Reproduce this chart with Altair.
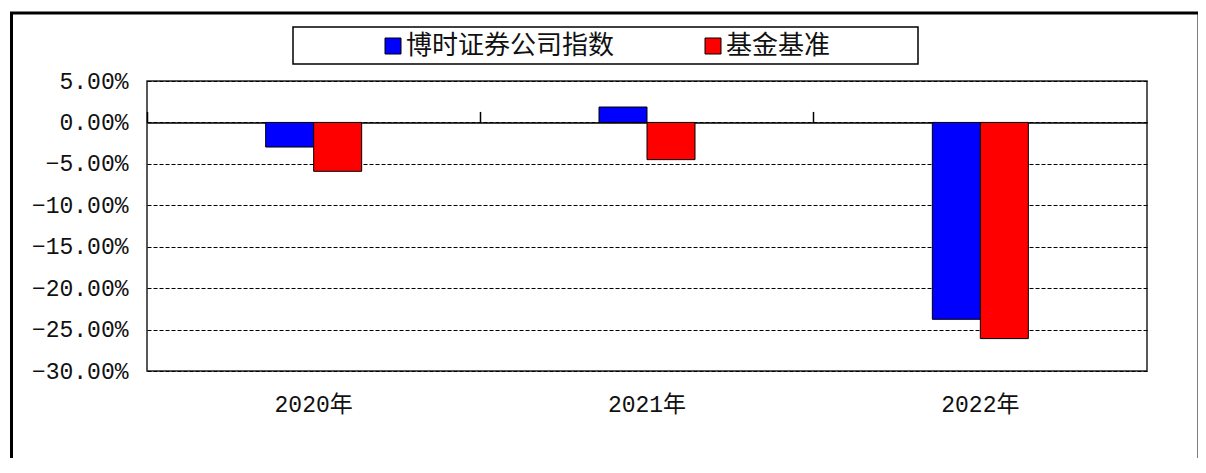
import altair as alt
import pandas as pd

years = ["2020年", "2021年", "2022年"]
series = ["博时证券公司指数", "基金基准"]
index_values = [-2.97, 1.86, -23.76]
benchmark_values = [-5.90, -4.49, -26.09]
colors = ["#0000FF", "#FF0000"]
y_ticks = [5, 0, -5, -10, -15, -20, -25, -30]

rows = []
for i, yr in enumerate(years):
    rows.append({"year": yr, "series": series[0], "value": index_values[i]})
    rows.append({"year": yr, "series": series[1], "value": benchmark_values[i]})
df = pd.DataFrame(rows)

W, H = 1000, 290
NUM_FONT = "Liberation Mono, Noto Sans CJK SC"
CJK_FONT = "Noto Sans CJK SC"

x_scale = alt.Scale(type="band", domain=years, paddingInner=0.712, paddingOuter=0.356)
x_scale_full = alt.Scale(type="band", domain=years, paddingInner=0, paddingOuter=0)
y_scale = alt.Scale(domain=[-30, 5], nice=False)

bars = alt.Chart(df).mark_bar(stroke="black", strokeWidth=1).encode(
    x=alt.X("year:N", scale=x_scale, title=None,
            axis=alt.Axis(orient="bottom", domain=False, ticks=False, labelAngle=0,
                          labelFont=NUM_FONT, labelFontSize=23, labelPadding=22,
                          labelColor="#111")),
    xOffset=alt.XOffset("series:N", scale=alt.Scale(domain=series, paddingInner=0, paddingOuter=0)),
    y=alt.Y("value:Q", scale=y_scale, stack=None, title=None,
            axis=alt.Axis(values=y_ticks, labelExpr="format(datum.value, '.2f') + '%'",
                          domain=False, ticks=False, grid=True, gridDash=[4, 2],
                          gridColor="black", gridWidth=1, labelFont=NUM_FONT,
                          labelFontSize=23, labelPadding=19, labelColor="#111")),
    color=alt.Color("series:N", scale=alt.Scale(domain=series, range=colors),
                    legend=alt.Legend(title=None, orient="none", legendX=233, legendY=-48,
                                      direction="horizontal", columns=2, symbolType="square",
                                      symbolSize=256, symbolStrokeColor="black",
                                      symbolStrokeWidth=1, labelFont=CJK_FONT,
                                      labelFontSize=26, labelOffset=0, columnPadding=85,
                                      padding=0, labelLimit=400, labelColor="#111")),
)

zero_axis = alt.Chart(df).mark_bar(opacity=0).encode(
    x=alt.X("year:N", scale=x_scale_full, title=None,
            axis=alt.Axis(orient="top", offset=-H * 5 / 35, labels=False, domain=True,
                          domainColor="black", domainWidth=1.5, ticks=True, tickColor="black",
                          tickSize=11, tickWidth=1.5, bandPosition=0, grid=False)),
)

deco = pd.DataFrame({"k": [0]})
frame = alt.Chart(deco).mark_rect(fillOpacity=0, stroke="black", strokeWidth=3).encode(
    x=alt.value(-135.5), x2=alt.value(1052), y=alt.value(-68), y2=alt.value(430)
)
legend_box = alt.Chart(deco).mark_rect(fill="white", stroke="black", strokeWidth=1.5).encode(
    x=alt.value(146), x2=alt.value(771), y=alt.value(-54), y2=alt.value(-17)
)

chart = alt.layer(frame, legend_box, zero_axis, bars).resolve_scale(
    x="independent"
).resolve_axis(x="independent").properties(
    width=W, height=H,
    autosize=alt.AutoSizeParams(type="none"),
    padding={"left": 139, "top": 73, "right": 51, "bottom": 87},
    background="white",
).configure_view(stroke="#222", strokeWidth=1.5)

chart.save("out.html", embed_options={"renderer": "svg", "actions": False})
